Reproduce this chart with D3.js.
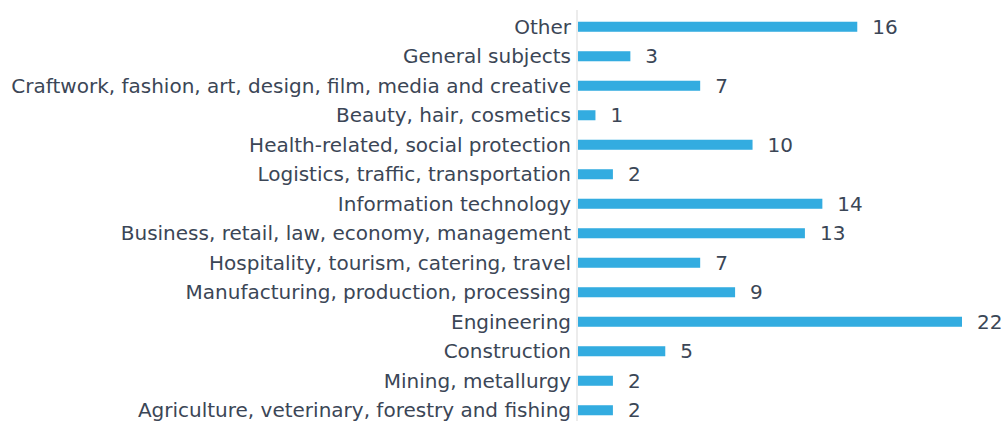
<!DOCTYPE html>
<html>
<head>
<meta charset="utf-8">
<script src="https://cdn.jsdelivr.net/npm/d3@7"></script>
<style>
  body { margin: 0; background: #fff; }
  .label { font-family: "DejaVu Sans", sans-serif; font-size: 20px; fill: #3b4656; }
  .value { font-family: "DejaVu Sans", sans-serif; font-size: 20px; fill: #3b4656; }
</style>
</head>
<body>
<div id="chart"></div>
<script>
const categories = [
  "Other",
  "General subjects",
  "Craftwork, fashion, art, design, film, media and creative",
  "Beauty, hair, cosmetics",
  "Health-related, social protection",
  "Logistics, traffic, transportation",
  "Information technology",
  "Business, retail, law, economy, management",
  "Hospitality, tourism, catering, travel",
  "Manufacturing, production, processing",
  "Engineering",
  "Construction",
  "Mining, metallurgy",
  "Agriculture, veterinary, forestry and fishing"
];
const values = [16, 3, 7, 1, 10, 2, 14, 13, 7, 9, 22, 5, 2, 2];

const width = 1003, height = 421;
const axisX = 577;

const svg = d3.select("#chart")
  .append("svg")
  .attr("width", width)
  .attr("height", height);

const x = d3.scaleLinear()
  .domain([0, 22])
  .range([axisX + 1, 962]);

const y = d3.scaleBand()
  .domain(categories)
  .range([12, 425])
  .paddingInner(0.66)
  .paddingOuter(0.33);

// axis line
svg.append("line")
  .attr("x1", axisX).attr("x2", axisX)
  .attr("y1", 10).attr("y2", 421)
  .attr("stroke", "#d9d9d9")
  .attr("stroke-width", 1);

svg.selectAll(".bar")
  .data(values)
  .join("rect")
  .attr("class", "bar")
  .attr("x", x(0))
  .attr("y", (d, i) => y(categories[i]))
  .attr("width", d => x(d) - x(0))
  .attr("height", y.bandwidth())
  .attr("fill", "#33ace0");

svg.selectAll(".label")
  .data(categories)
  .join("text")
  .attr("class", "label")
  .attr("x", axisX - 6)
  .attr("y", d => y(d) + y.bandwidth() / 2)
  .attr("dy", "0.35em")
  .attr("text-anchor", "end")
  .text(d => d);

svg.selectAll(".value")
  .data(values)
  .join("text")
  .attr("class", "value")
  .attr("x", d => x(d) + 15)
  .attr("y", (d, i) => y(categories[i]) + y.bandwidth() / 2)
  .attr("dy", "0.35em")
  .text(d => d);
</script>
</body>
</html>
